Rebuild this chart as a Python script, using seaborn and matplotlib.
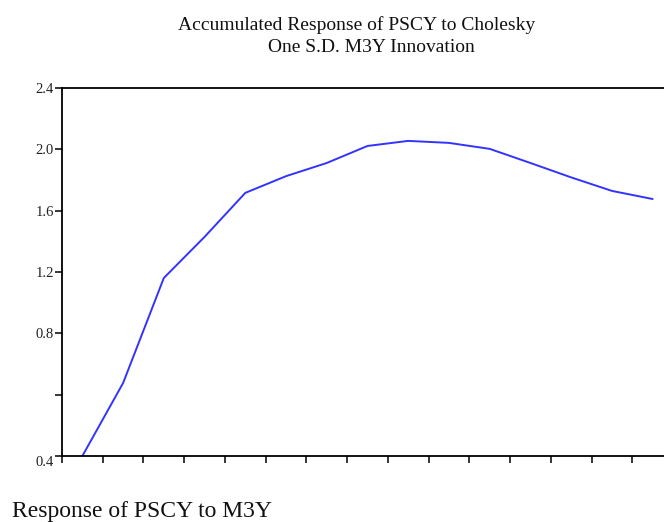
import numpy as np
import pandas as pd
import seaborn as sns
import matplotlib.pyplot as plt

# accumulated response, periods 1..15
periods = list(range(1, 16))
response = [0.0, 0.476, 1.161, 1.429, 1.716, 1.825, 1.911, 2.022,
            2.055, 2.042, 2.003, 1.911, 1.817, 1.729, 1.676]
ytick_vals = [0.0, 0.4, 0.8, 1.2, 1.6, 2.0, 2.4]
ytick_labels = ['0.4', '', '0.8', '1.2', '1.6', '2.0', '2.4']

df = pd.DataFrame({'period': periods, 'response': response})

sns.set_style('ticks')
plt.rcParams['font.family'] = ['Liberation Serif', 'DejaVu Serif']

fig = plt.figure(figsize=(6.64, 5.22), dpi=100)
ax = fig.add_axes([62 / 664, 1 - 456 / 522, 611 / 664, 368 / 522])

sns.lineplot(data=df, x='period', y='response', ax=ax, color='#3333ff',
             linewidth=1.4)

ax.set_xlim(0.5, 15.5)
ax.set_ylim(0.0, 2.4)
ax.set_xticks(np.arange(0.5, 15.6, 1.0))
ax.set_xticklabels([])
ax.set_yticks(ytick_vals)
ax.set_yticklabels(ytick_labels, fontsize=10.5, color='#222222')
ax.get_yticklabels()[0].set_va('top')
ax.set_xlabel('')
ax.set_ylabel('')
for s in ax.spines.values():
    s.set_linewidth(1.3)
    s.set_color('black')
ax.tick_params(axis='both', direction='out', length=5, width=1.1,
               colors='black', labelcolor='#222222', pad=1)

fig.text(357 / 664, 1 - 25 / 522, 'Accumulated Response of PSCY to Cholesky',
         ha='center', va='center', fontsize=14, color='#111111')
fig.text(371 / 664, 1 - 47 / 522, 'One S.D. M3Y Innovation',
         ha='center', va='center', fontsize=14, color='#111111')
fig.text(12 / 664, 1 - 511 / 522, 'Response of PSCY to M3Y',
         ha='left', va='center', fontsize=17, color='#111111')

fig.savefig('out.png', dpi=100)
